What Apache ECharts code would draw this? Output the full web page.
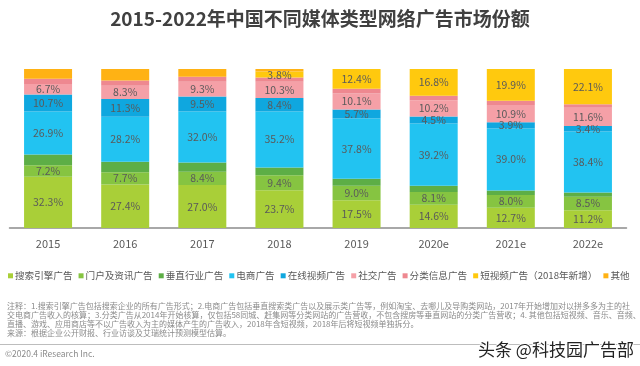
<!DOCTYPE html>
<html><head><meta charset="utf-8">
<script src="https://cdn.jsdelivr.net/npm/echarts@6/dist/echarts.min.js"></script>
<style>html,body{margin:0;padding:0;background:#fff}#c{width:640px;height:366px}</style>
</head><body><div id="c"></div>
<script>
const categories = ['2015','2016','2017','2018','2019','2020e','2021e','2022e'];
const seriesNames = ['搜索引擎广告','门户及资讯广告','垂直行业广告','电商广告','在线视频广告','社交广告','分类信息广告','短视频广告（2018年新增）','其他'];
const search     = [32.3, 27.4, 27.0, 23.7, 17.5, 14.6, 12.7, 11.2];
const portal     = [7.2, 7.7, 8.4, 9.4, 9.0, 8.1, 8.0, 8.5];
const vertical   = [6.8, 6.6, 5.8, 5.0, 4.5, 3.8, 2.9, 2.6];
const ecommerce  = [26.9, 28.2, 32.0, 35.2, 37.8, 39.2, 39.0, 38.4];
const video      = [10.7, 11.3, 9.5, 8.4, 5.7, 4.5, 3.9, 3.4];
const social     = [6.7, 8.3, 9.3, 10.3, 10.1, 10.2, 10.9, 11.6];
const classified = [3.2, 3.3, 3.2, 2.6, 3.0, 2.8, 2.7, 2.2];
const shortVideo = [null, null, null, 3.8, 12.4, 16.8, 19.9, 22.1];
const other      = [6.2, 7.2, 4.8, 1.6, 0, 0, 0, 0];
const seriesData = [search, portal, vertical, ecommerce, video, social, classified, shortVideo, other];
const showLabel  = [true, true, false, true, true, true, false, true, false];
const colors = ['#A9CF38','#86C441','#5DAE46','#22C3F1','#0FA7DF','#F5A0A7','#EE8890','#FFC90E','#FFB214'];
const noteLines = [
 '注释：1.搜索引擎广告包括搜索企业的所有广告形式；2.电商广告包括垂直搜索类广告以及展示类广告等，例如淘宝、去哪儿及导购类网站，2017年开始增加对以拼多多为主的社',
 '交电商广告收入的核算；3.分类广告从2014年开始核算，仅包括58同城、赶集网等分类网站的广告营收，不包含搜房等垂直网站的分类广告营收；4. 其他包括短视频、音乐、音频、',
 '直播、游戏、应用商店等不以广告收入为主的媒体产生的广告收入，2018年含短视频，2018年后将短视频单独拆分。',
 '来源：根据企业公开财报、行业访谈及艾瑞统计预测模型估算。'
];
const FONT = '"Noto Sans CJK SC","Noto Sans",sans-serif';
const chart = echarts.init(document.getElementById('c'), null, {renderer:'canvas'});
const series = seriesNames.map((n,i)=>({
  name:n, type:'bar', stack:'total', barWidth:48, data:seriesData[i],
  itemStyle:{color:colors[i]},
  label:{show:showLabel[i], position:'inside', fontSize:10.5, color:'#5a5a5a', fontFamily:FONT,
    formatter:p=> (p.value==null||p.value===0)?'':Number(p.value).toFixed(1)+'%'}
}));
const graphics = [];
noteLines.forEach((t,i)=>graphics.push({type:'text', left:7, top:302+i*9,
  style:{text:t, fill:'#8a8a8a', font:'8px '+FONT}}));
graphics.push({type:'line', shape:{x1:0,y1:344.5,x2:640,y2:344.5}, style:{stroke:'#bdbdbd', lineWidth:1}});
graphics.push({type:'text', left:5, top:349.5, style:{text:'©2020.4 iResearch Inc.', fill:'#8a8a8a', font:'8.5px '+FONT}});
graphics.push({type:'text', left:477, top:340, style:{text:'头条 @科技园广告部', fill:'#222', font:'17px '+FONT, stroke:'#fff', lineWidth:2}});
chart.setOption({
  animation:false,
  color:colors,
  title:{text:'2015-2022年中国不同媒体类型网络广告市场份额', left:'center', top:4,
    textStyle:{fontSize:19, fontWeight:'bold', color:'#404040', fontFamily:FONT}},
  legend:{data:seriesNames, left:8, right:0, top:271, padding:0, icon:'rect', itemWidth:5, itemHeight:5, itemGap:6,
    textStyle:{fontSize:9.6, color:'#595959', fontFamily:FONT, padding:[0,0,0,-3]}},
  grid:{left:9.5, right:13.5, top:69, bottom:138, containLabel:false},
  xAxis:{type:'category', data:categories, axisTick:{show:false},
    axisLine:{lineStyle:{color:'#8c8c8c', width:1.5}},
    axisLabel:{fontSize:11, color:'#595959', margin:10, fontFamily:FONT}},
  yAxis:{type:'value', min:0, max:100, show:false, splitLine:{show:false}},
  series:series,
  graphic:graphics
});
</script></body></html>
